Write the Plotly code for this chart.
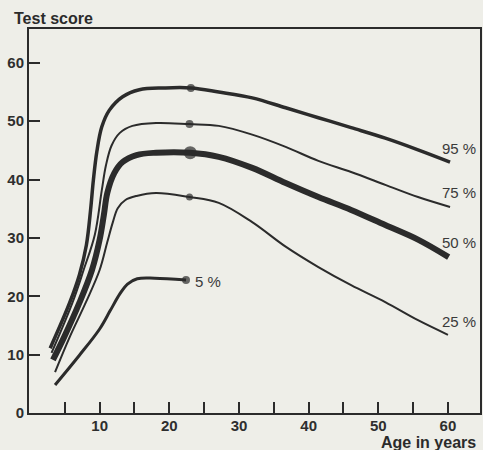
import plotly.graph_objects as go

# Percentile curves (age in years, test score)
p95_x = [2.9, 5.7, 7.1, 8.1, 8.7, 9.1, 9.6, 10.3, 11.4, 13.3, 15.7, 19.3, 23.1, 27.1, 31.9, 36.7, 41.4, 46.1, 51.0, 55.7, 60.3]
p95_y = [11.1, 18.9, 23.7, 28.8, 34.8, 39.9, 44.8, 49.0, 51.9, 54.2, 55.4, 55.7, 55.7, 55.0, 54.0, 52.3, 50.6, 48.9, 47.1, 45.1, 43.0]

p75_x = [3.1, 6.1, 7.7, 9.3, 10.3, 10.9, 11.7, 12.9, 14.7, 18.1, 22.9, 27.1, 31.9, 36.7, 41.4, 46.1, 51.0, 55.7, 60.3]
p75_y = [10.3, 18.9, 24.5, 30.5, 38.1, 42.4, 45.8, 48.0, 49.2, 49.7, 49.5, 49.2, 47.7, 45.6, 43.2, 41.3, 39.1, 37.0, 35.3]

p50_x = [3.3, 4.9, 7.1, 8.9, 10.0, 10.6, 11.1, 12.1, 13.3, 15.3, 18.1, 23.0, 27.1, 31.9, 36.7, 41.4, 46.1, 51.0, 55.7, 60.1]
p50_y = [9.1, 13.0, 18.9, 24.5, 29.7, 33.9, 37.7, 41.1, 43.0, 44.2, 44.6, 44.6, 43.9, 42.0, 39.4, 37.0, 34.8, 32.2, 29.7, 26.7]

p25_x = [3.6, 5.7, 8.0, 10.0, 11.1, 11.9, 12.6, 13.7, 15.3, 18.1, 22.9, 27.1, 31.9, 36.7, 41.4, 46.1, 51.0, 55.7, 60.0]
p25_y = [7.0, 13.0, 18.9, 24.5, 29.3, 32.7, 35.1, 36.5, 37.2, 37.7, 37.0, 36.0, 32.7, 28.5, 25.0, 21.9, 19.0, 15.9, 13.4]

p5_x = [3.6, 7.1, 10.0, 11.5, 12.9, 14.0, 15.4, 17.9, 22.4]
p5_y = [4.8, 9.9, 14.4, 17.5, 20.4, 22.1, 23.0, 23.1, 22.8]

# Dots marking the end of the plateau on each curve
peak_x = [23.1, 22.9, 23.0, 22.9, 22.4]
peak_y = [55.7, 49.5, 44.6, 37.0, 22.8]

labels = ["95 %", "75 %", "50 %", "25 %", "5 %"]
label_x = [58.9, 58.9, 58.9, 58.9, 23.4]
label_y = [45.4, 37.7, 29.3, 15.6, 22.6]

x_ticks = [5, 10, 15, 20, 25, 30, 35, 40, 45, 50, 55, 60]
x_ticktext = ["", "10", "", "20", "", "30", "", "40", "", "50", "", "60"]
y_ticks = [0, 10, 20, 30, 40, 50, 60]

INK = "#2b2b2b"
BG = "#eeeee8"
FONT = "Liberation Sans, Arial, sans-serif"

series = [
    (p95_x, p95_y, 3.5),
    (p75_x, p75_y, 2.0),
    (p50_x, p50_y, 6.0),
    (p25_x, p25_y, 2.0),
    (p5_x, p5_y, 3.0),
]
dot_sizes = [8, 8, 13, 7, 8]

fig = go.Figure()
for (xs, ys, w) in series:
    fig.add_trace(go.Scatter(
        x=xs, y=ys, mode="lines",
        line=dict(color=INK, width=w, shape="spline", smoothing=1.0),
        showlegend=False, hoverinfo="skip",
    ))

fig.add_trace(go.Scatter(
    x=peak_x, y=peak_y, mode="markers",
    marker=dict(color=INK, size=dot_sizes, line=dict(width=0)),
    showlegend=False, hoverinfo="skip",
))

for t, lx, ly in zip(labels, label_x, label_y):
    fig.add_annotation(
        x=lx, y=ly, text=t, showarrow=False,
        xanchor="left", yanchor="middle",
        font=dict(family=FONT, size=15, color="#3a3a3a"),
    )

fig.add_annotation(
    xref="paper", yref="paper", x=-0.0375, y=1.0286,
    text="<b>Test score</b>", showarrow=False,
    xanchor="left", yanchor="middle",
    font=dict(family=FONT, size=16, color=INK),
)
fig.add_annotation(
    xref="paper", yref="paper", x=0.9956, y=-0.0768,
    text="<b>Age in years</b>", showarrow=False,
    xanchor="right", yanchor="middle",
    font=dict(family=FONT, size=16, color=INK),
)

fig.update_layout(
    width=483, height=450,
    margin=dict(l=29, r=1, t=29, b=37),
    paper_bgcolor=BG, plot_bgcolor=BG,
    font=dict(family=FONT, color=INK),
)
fig.update_xaxes(
    range=[-0.14, 64.6], showgrid=False, zeroline=False,
    showline=True, linecolor=INK, linewidth=2, mirror=True,
    tickmode="array", tickvals=x_ticks, ticktext=x_ticktext,
    ticks="inside", ticklen=11, tickwidth=2, tickcolor=INK,
    ticklabelstandoff=-2,
    tickfont=dict(family=FONT, size=15, color="#2e2e2e", weight="bold"),
)
fig.update_yaxes(
    range=[0, 65.8], showgrid=False, zeroline=False,
    showline=True, linecolor=INK, linewidth=2, mirror=True,
    tickmode="array", tickvals=y_ticks,
    ticks="inside", ticklen=11, tickwidth=2, tickcolor=INK,
    tickfont=dict(family=FONT, size=15, color="#2e2e2e", weight="bold"),
)

fig.write_html("out.html")
